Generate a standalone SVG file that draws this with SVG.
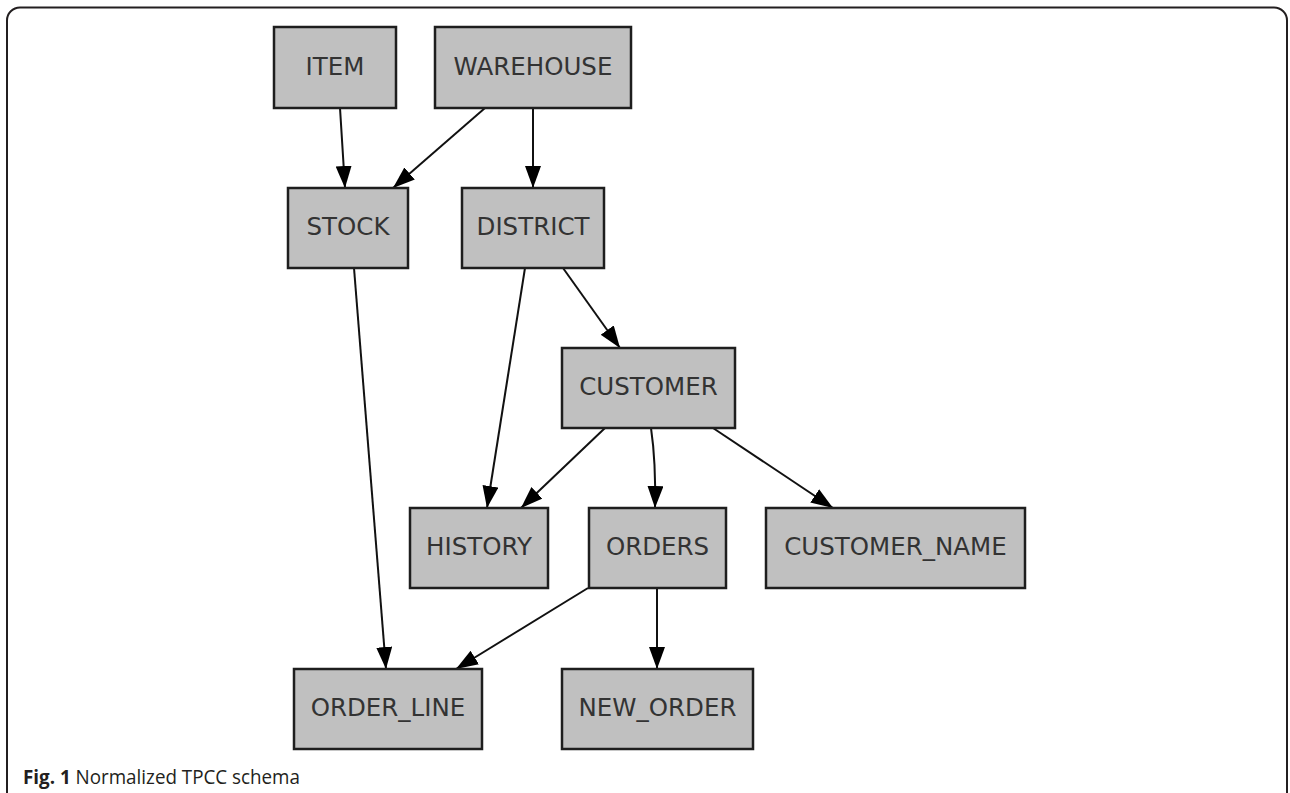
<svg xmlns="http://www.w3.org/2000/svg" width="1290" height="793" viewBox="0 0 1290 793">
<style>
.n rect{fill:#c0c0c0;stroke:#1e1e1e;stroke-width:2.5}
.n text{font-family:"DejaVu Sans",sans-serif;font-size:24.5px;fill:#333;text-anchor:middle}
.e{fill:none;stroke:#111;stroke-width:2;marker-end:url(#ah)}
.cap{font-family:"Open Sans",sans-serif;font-size:20px;fill:#231f20}
</style>
<defs>
<marker id="ah" markerUnits="userSpaceOnUse" markerWidth="23" markerHeight="17" refX="22" refY="8" orient="auto">
<path d="M0,0 L22,8 L0,16 Z" fill="#000"/>
</marker>
</defs>
<rect x="7" y="7.5" width="1280" height="820" rx="13" ry="13" fill="#fff" stroke="#231f20" stroke-width="2"/>
<g id="connectors">
<path class="e" d="M340,108 L345,188"/>
<path class="e" d="M485,108 L393,188"/>
<path class="e" d="M533,108 L533,188"/>
<path class="e" d="M354,268 L386,669"/>
<path class="e" d="M525,268 L487,508"/>
<path class="e" d="M563,268 L620,348"/>
<path class="e" d="M605,428 L521,508"/>
<path class="e" d="M651,428 Q656,462 655,508"/>
<path class="e" d="M713,428 L833,508"/>
<path class="e" d="M588,588 L456,669"/>
<path class="e" d="M657,588 L657,669"/>
</g>
<g id="ITEM" class="n"><rect x="274" y="27" width="122" height="81"/><text x="335" y="74.5">ITEM</text></g>
<g id="WAREHOUSE" class="n"><rect x="435" y="27" width="196" height="81"/><text x="533" y="74.5">WAREHOUSE</text></g>
<g id="STOCK" class="n"><rect x="288" y="188" width="120" height="80"/><text x="348" y="235">STOCK</text></g>
<g id="DISTRICT" class="n"><rect x="462" y="188" width="142" height="80"/><text x="533" y="235">DISTRICT</text></g>
<g id="CUSTOMER" class="n"><rect x="562" y="348" width="173" height="80"/><text x="648.5" y="395">CUSTOMER</text></g>
<g id="HISTORY" class="n"><rect x="410" y="508" width="138" height="80"/><text x="479" y="555">HISTORY</text></g>
<g id="ORDERS" class="n"><rect x="589" y="508" width="137" height="80"/><text x="657.5" y="555">ORDERS</text></g>
<g id="CUSTOMER_NAME" class="n"><rect x="766" y="508" width="259" height="80"/><text x="895.5" y="555">CUSTOMER_NAME</text></g>
<g id="ORDER_LINE" class="n"><rect x="294" y="669" width="188" height="80"/><text x="388" y="716">ORDER_LINE</text></g>
<g id="NEW_ORDER" class="n"><rect x="562" y="669" width="191" height="80"/><text x="657.5" y="716">NEW_ORDER</text></g>
<text class="cap" x="23" y="784" textLength="277" lengthAdjust="spacingAndGlyphs"><tspan font-weight="bold">Fig. 1</tspan> Normalized TPCC schema</text>
</svg>
